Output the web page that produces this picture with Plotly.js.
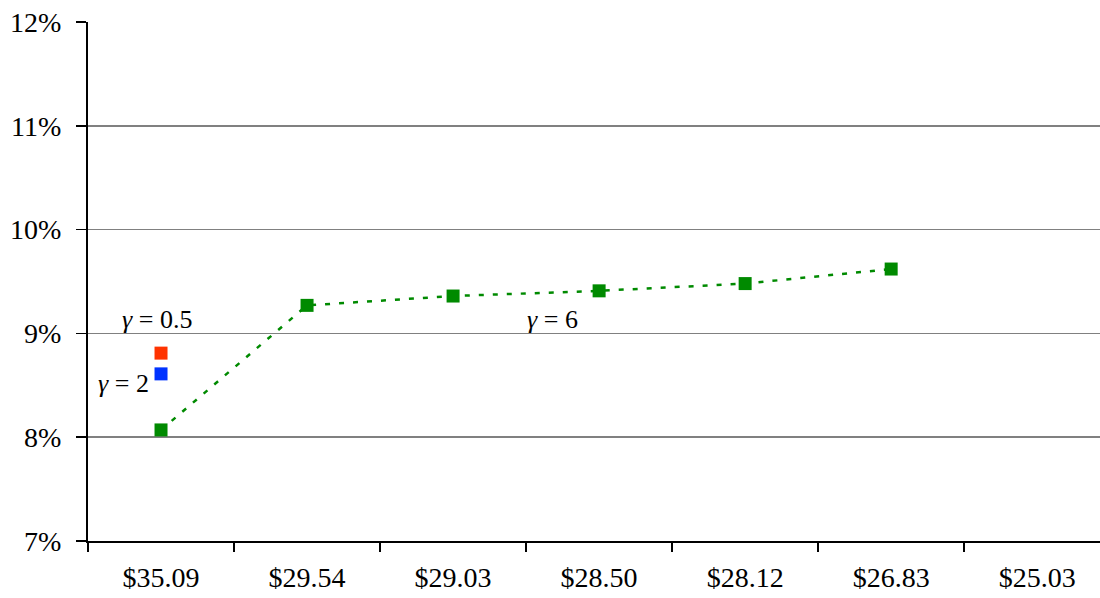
<!DOCTYPE html>
<html><head><meta charset="utf-8">
<script src="https://cdn.plot.ly/plotly-3.0.1.min.js"></script>
<style>html,body{margin:0;padding:0;background:#fff}</style>
</head><body>
<div id="chart" style="width:1100px;height:598px"></div>
<script>
var categories = ["$35.09", "$29.54", "$29.03", "$28.50", "$28.12", "$26.83", "$25.03"];
var gamma6Values = [8.07, 9.27, 9.36, 9.41, 9.48, 9.62];
var gamma05Values = [8.81];
var gamma2Values = [8.61];
var yTicks = [7, 8, 9, 10, 11, 12];

var serif = "'Liberation Serif', 'Times New Roman', serif";

var traces = [
  {x: categories.slice(0, gamma6Values.length), y: gamma6Values, type: "scatter", mode: "lines+markers",
   line: {color: "#008a00", width: 2.5, dash: "5px,9px"},
   marker: {symbol: "square", size: 13, color: "#008a00"}, name: "γ = 6"},
  {x: categories.slice(0, 1), y: gamma05Values, type: "scatter", mode: "markers",
   marker: {symbol: "square", size: 13, color: "#ff3300"}, name: "γ = 0.5"},
  {x: categories.slice(0, 1), y: gamma2Values, type: "scatter", mode: "markers",
   marker: {symbol: "square", size: 13, color: "#0033ff"}, name: "γ = 2"}
];

var annFont = {family: serif, size: 26, color: "#000"};
var layout = {
  width: 1100, height: 598,
  margin: {l: 88, r: 0, t: 22, b: 57},
  paper_bgcolor: "#fff", plot_bgcolor: "#fff",
  showlegend: false,
  font: {family: serif, size: 28, color: "#000"},
  xaxis: {
    type: "category", categoryorder: "array", categoryarray: categories,
    range: [-0.5, 6.43], tickson: "boundaries", ticks: "outside", ticklen: 9,
    tickwidth: 1.5, tickcolor: "#000", showgrid: false, zeroline: false,
    showline: true, linecolor: "#000", linewidth: 2, ticklabelstandoff: 10,
    tickfont: {family: serif, size: 28, color: "#000"}
  },
  yaxis: {
    range: [7, 12], tickvals: yTicks, ticktext: yTicks.map(function(v){return v + "%";}),
    ticks: "outside", ticklen: 10, tickwidth: 1.5, tickcolor: "#000",
    showgrid: true, gridcolor: "#808080", gridwidth: 1.5, zeroline: false,
    showline: true, linecolor: "#000", linewidth: 2, ticklabelstandoff: 9,
    tickfont: {family: serif, size: 28, color: "#000"}
  },
  annotations: [
    {x: -0.03, y: 9.13, xref: "x", yref: "y", showarrow: false, font: annFont,
     text: "<i>γ</i> = 0.5"},
    {x: -0.26, y: 8.52, xref: "x", yref: "y", showarrow: false, font: annFont,
     text: "<i>γ</i> = 2"},
    {x: 2.68, y: 9.13, xref: "x", yref: "y", showarrow: false, font: annFont,
     text: "<i>γ</i> = 6"}
  ]
};
Plotly.newPlot("chart", traces, layout, {displayModeBar: false, staticPlot: true});
</script>
</body></html>
